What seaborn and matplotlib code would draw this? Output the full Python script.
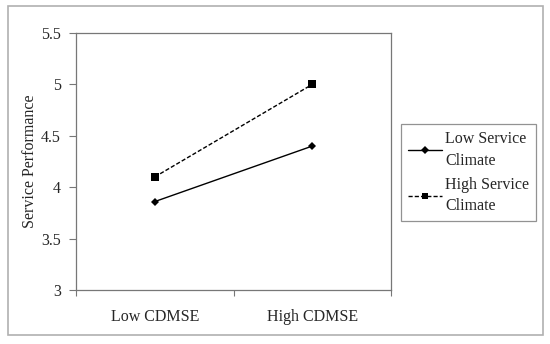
import pandas as pd
import seaborn as sns
import matplotlib
matplotlib.use("Agg")
import matplotlib.pyplot as plt
import matplotlib.patches as patches
from matplotlib.lines import Line2D

# data
categories = ["Low CDMSE", "High CDMSE"]
low_climate = [3.86, 4.40]
high_climate = [4.10, 5.00]
series_names = ["Low Service\nClimate", "High Service\nClimate"]
y_ticks = [3, 3.5, 4, 4.5, 5, 5.5]
y_labels = ["3", "3.5", "4", "4.5", "5", "5.5"]

sns.set_style("white")
plt.rcParams['font.family'] = ['Liberation Serif', 'DejaVu Serif']
plt.rcParams['font.size'] = 11.5

df = pd.DataFrame({
    "x": [0, 1, 0, 1],
    "y": low_climate + high_climate,
    "series": [series_names[0]] * 2 + [series_names[1]] * 2,
})

fig = plt.figure(figsize=(5.5, 3.44), dpi=100)
ax = fig.add_axes([76 / 550, 1 - 290 / 344, 315 / 550, 257 / 344])

sns.lineplot(data=df, x="x", y="y", hue="series", style="series",
             palette=["black", "black"], markers=["D", "s"],
             dashes=[(None, None), (3, 1.5)], linewidth=1.0,
             markersize=5, markeredgewidth=0, ax=ax, legend=False)
for ln in ax.lines:
    if ln.get_marker() == "D":
        ln.set_markersize(4.5)
    else:
        ln.set_markersize(5.5)

ax.set_xlim(-0.5, 1.5)
ax.set_ylim(3, 5.5)
ax.set_xticks([0, 1])
ax.set_xticklabels(categories)
ax.set_xticks([-0.5, 0.5, 1.5], minor=True)
ax.tick_params(axis="x", which="major", length=0, pad=14, labelsize=11.5)
ax.tick_params(axis="x", which="minor", length=4, width=0.8, direction="out",
               bottom=True, color="#777777")
ax.set_yticks(y_ticks)
ax.set_yticklabels(y_labels)
ax.tick_params(axis="y", length=5, width=0.8, direction="out", left=True,
               color="#777777", labelsize=11.5, pad=6)
ax.set_xlabel("")
ax.set_ylabel("Service Performance", fontsize=11.5, labelpad=2)
for s in ax.spines.values():
    s.set_color("#777777")
    s.set_linewidth(0.9)

handles = [
    Line2D([0], [0], color="black", lw=1.0, marker="D", markersize=4, markeredgewidth=0),
    Line2D([0], [0], color="black", lw=1.0, ls=(0, (3, 1.5)), marker="s", markersize=5, markeredgewidth=0),
]
leg = fig.legend(handles, series_names, loc="upper left",
                 bbox_to_anchor=(401 / 550, 1 - 124 / 344), frameon=True,
                 fancybox=False, edgecolor="#777777", fontsize=11.5,
                 handlelength=2.1, handletextpad=0.2, borderpad=0.45,
                 labelspacing=0.5, borderaxespad=0)
leg.get_frame().set_linewidth(0.9)
for t in leg.get_texts():
    t.set_linespacing(1.45)

# outer frame around the whole figure
fig.patches.append(patches.Rectangle((8 / 550, 1 - 335 / 344), 535 / 550, 329 / 344,
                                     transform=fig.transFigure, fill=False,
                                     edgecolor="#b0b0b0", linewidth=1.2))

fig.savefig("out.png", dpi=100)
